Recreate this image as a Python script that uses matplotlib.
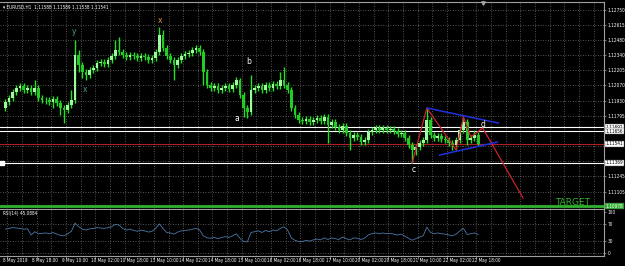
import numpy as np
import matplotlib.pyplot as plt

# EURUSD H1, every 2 hours
open0 = 1.11864
closes = [1.11918, 1.11954, 1.12008, 1.12045, 1.12063, 1.12026, 1.12045, 1.12008, 1.12045, 1.11954,
          1.11936, 1.11936, 1.11918, 1.11945, 1.11909, 1.11864, 1.11846, 1.11891, 1.11936, 1.12343,
          1.12252, 1.12189, 1.12162, 1.12207, 1.12225, 1.12270, 1.12280, 1.12261, 1.12298, 1.12334,
          1.12388, 1.12370, 1.12343, 1.12325, 1.12343, 1.12334, 1.12316, 1.12334, 1.12325, 1.12298,
          1.12316, 1.12370, 1.12524, 1.12406, 1.12334, 1.12298, 1.12252, 1.12298, 1.12334, 1.12352,
          1.12361, 1.12388, 1.12406, 1.12370, 1.12189, 1.12072, 1.12045, 1.12063, 1.12026, 1.12045,
          1.12063, 1.12035, 1.12072, 1.12117, 1.11981, 1.11864, 1.11828, 1.12026, 1.12045, 1.12063,
          1.12026, 1.12072, 1.12045, 1.12081, 1.12063, 1.12117, 1.12072, 1.12026, 1.11864, 1.11800,
          1.11755, 1.11746, 1.11764, 1.11737, 1.11755, 1.11773, 1.11746, 1.11782, 1.11710, 1.11737,
          1.11692, 1.11665, 1.11701, 1.11638, 1.11593, 1.11620, 1.11602, 1.11556, 1.11574, 1.11647,
          1.11665, 1.11683, 1.11665, 1.11683, 1.11665, 1.11674, 1.11656, 1.11629, 1.11638, 1.11593,
          1.11529, 1.11484, 1.11511, 1.11547, 1.11574, 1.11755, 1.11620, 1.11593, 1.11611, 1.11583,
          1.11574, 1.11547, 1.11529, 1.11574, 1.11665, 1.11737, 1.11574, 1.11593, 1.11620, 1.11541]
highs = [1.11945, 1.11981, 1.12035, 1.12072, 1.12090, 1.12090, 1.12072, 1.12072, 1.12117, 1.12072,
         1.11981, 1.11963, 1.11963, 1.11972, 1.11972, 1.11936, 1.11891, 1.11918, 1.12026, 1.12478,
         1.12388, 1.12280, 1.12216, 1.12234, 1.12252, 1.12298, 1.12307, 1.12307, 1.12325, 1.12361,
         1.12478, 1.12506, 1.12397, 1.12370, 1.12370, 1.12370, 1.12361, 1.12361, 1.12361, 1.12352,
         1.12343, 1.12397, 1.12596, 1.12569, 1.12433, 1.12361, 1.12325, 1.12325, 1.12361, 1.12379,
         1.12388, 1.12415, 1.12433, 1.12433, 1.12397, 1.12216, 1.12099, 1.12090, 1.12090, 1.12072,
         1.12090, 1.12090, 1.12099, 1.12144, 1.12135, 1.12008, 1.11891, 1.12162, 1.12072, 1.12090,
         1.12090, 1.12099, 1.12099, 1.12108, 1.12108, 1.12189, 1.12234, 1.12099, 1.12054, 1.11891,
         1.11828, 1.11782, 1.11791, 1.11791, 1.11782, 1.11800, 1.11800, 1.11809, 1.11809, 1.11764,
         1.11764, 1.11719, 1.11728, 1.11728, 1.11665, 1.11647, 1.11647, 1.11629, 1.11602, 1.11674,
         1.11692, 1.11710, 1.11710, 1.11710, 1.11710, 1.11701, 1.11701, 1.11683, 1.11665, 1.11665,
         1.11620, 1.11556, 1.11538, 1.11574, 1.11602, 1.11864, 1.11782, 1.11647, 1.11638, 1.11638,
         1.11611, 1.11602, 1.11574, 1.11602, 1.11692, 1.11782, 1.11764, 1.11620, 1.11665, 1.11647]
lows = [1.11837, 1.11891, 1.11927, 1.11981, 1.12017, 1.11999, 1.11999, 1.11981, 1.11981, 1.11927,
        1.11909, 1.11900, 1.11891, 1.11864, 1.11882, 1.11800, 1.11728, 1.11818, 1.11864, 1.11909,
        1.12189, 1.12135, 1.12117, 1.12135, 1.12180, 1.12198, 1.12243, 1.12234, 1.12234, 1.12270,
        1.12307, 1.12343, 1.12316, 1.12298, 1.12298, 1.12307, 1.12289, 1.12289, 1.12298, 1.12270,
        1.12270, 1.12289, 1.12343, 1.12379, 1.12307, 1.12270, 1.12117, 1.12225, 1.12270, 1.12307,
        1.12325, 1.12334, 1.12361, 1.12343, 1.12072, 1.12045, 1.12017, 1.12017, 1.11999, 1.11999,
        1.12017, 1.12008, 1.12008, 1.12045, 1.11954, 1.11782, 1.11773, 1.11800, 1.11999, 1.12017,
        1.11999, 1.11999, 1.12017, 1.12017, 1.12035, 1.12035, 1.12045, 1.11999, 1.11837, 1.11773,
        1.11728, 1.11719, 1.11719, 1.11710, 1.11710, 1.11728, 1.11719, 1.11719, 1.11547, 1.11683,
        1.11665, 1.11638, 1.11638, 1.11611, 1.11484, 1.11565, 1.11574, 1.11529, 1.11529, 1.11547,
        1.11620, 1.11638, 1.11638, 1.11638, 1.11638, 1.11638, 1.11629, 1.11602, 1.11602, 1.11565,
        1.11502, 1.11367, 1.11439, 1.11484, 1.11520, 1.11547, 1.11593, 1.11565, 1.11565, 1.11556,
        1.11547, 1.11520, 1.11484, 1.11484, 1.11547, 1.11638, 1.11529, 1.11547, 1.11565, 1.11520]
rsi = [58, 60, 62, 61, 60, 58, 59, 44, 52, 47, 48, 49, 47, 50, 46, 43, 42, 47, 53, 73,
       64, 58, 56, 59, 60, 62, 61, 60, 62, 64, 70, 68, 60, 56, 58, 55, 53, 56, 54, 51,
       53, 60, 71, 60, 50, 49, 46, 51, 54, 55, 56, 58, 60, 56, 42, 37, 36, 38, 35, 38,
       40, 38, 42, 47, 36, 28, 27, 50, 52, 54, 50, 55, 52, 56, 54, 60, 64, 56, 37, 31,
       28, 28, 31, 29, 32, 34, 32, 37, 33, 37, 35, 33, 39, 35, 32, 37, 36, 33, 36, 44,
       47, 49, 47, 49, 47, 48, 46, 44, 46, 41, 36, 31, 35, 39, 42, 63, 50, 47, 49, 47,
       46, 44, 42, 46, 54, 60, 45, 47, 49, 45.0884]

time_labels = ['8 May 2019', '8 May 18:00', '9 May 10:00', '10 May 02:00', '10 May 18:00',
               '13 May 10:00', '14 May 02:00', '14 May 18:00', '15 May 10:00', '16 May 02:00',
               '16 May 18:00', '17 May 10:00', '20 May 02:00', '20 May 18:00', '21 May 10:00',
               '22 May 02:00', '22 May 18:00']
price_ticks = [1.12750, 1.12615, 1.12480, 1.12340, 1.12205, 1.12070, 1.11930, 1.11795,
               1.11660, 1.11520, 1.11385, 1.11245, 1.11105, 1.10970]
# labels hidden behind the line price boxes
hidden_ticks = [1.11660, 1.11520, 1.11385, 1.10970]
rsi_ticks = [100, 70, 30, 0]

# wave drawing
zig_t = [221, 229, 245, 249, 253, 259.5, 281.5]
zig_p = [1.11367, 1.11864, 1.11484, 1.11782, 1.11602, 1.11683, 1.11050]
upper_t, upper_p = [229, 268], [1.11864, 1.11728]
lower_t, lower_p = [236, 267.5], [1.11439, 1.11556]
wave_labels = [('y', 36.4, 1.12551, '#4f9a9a'), ('x', 42.4, 1.12035, '#4f9a9a'),
               ('x', 83.4, 1.12659, '#e09040'), ('a', 125.4, 1.11773, 'white'),
               ('b', 131.9, 1.12280, 'white'), ('c', 222, 1.11312, 'white'),
               ('d', 259.7, 1.11712, '#f0f0d0')]

white_levels = [1.11692, 1.11656, 1.11369]
bid = 1.11541
target = 1.10978

fnt = 'DejaVu Sans'
fs = 3.4
txt = dict(family=fnt, stretch='condensed')
grid_kw = dict(color='#707070', linestyle=(0, (1, 2)), linewidth=0.6)

o = np.array([open0] + closes[:-1])
c = np.array(closes)
t = 2 * np.arange(len(closes)) - 1
xlim = (-3.98, 325.7)

fig = plt.figure(figsize=(6.25, 2.66), dpi=100, facecolor='black')
ax = fig.add_axes([0, 1 - 209 / 266, 604 / 625, 207 / 266])
ax.set_facecolor('black')
ax.set_xlim(*xlim)
ax.set_ylim(1.10951, 1.12822)

for v in np.arange(0, 326, 8):
    ax.axvline(v, **grid_kw, zorder=0)
for p in price_ticks:
    ax.axhline(p, **grid_kw, zorder=0)

up = c >= o
ax.vlines(t, lows, highs, color='#22e022', linewidth=1.0, zorder=2)
ax.bar(t[up], c[up] - o[up], bottom=o[up], width=1.5, color='#a0f8a0', linewidth=0, zorder=3)
ax.bar(t[~up], o[~up] - c[~up], bottom=c[~up], width=1.5, color='#22cc22', linewidth=0, zorder=3)

for lv in white_levels:
    ax.axhline(lv, color='white', linewidth=0.8, zorder=1)
ax.plot([xlim[0] + 1.2], [white_levels[2]], marker='s', color='white', markersize=2.2, zorder=4)
ax.axhline(bid, color='#b02020', linewidth=0.8, zorder=1)
ax.axhline(target, color='#30b030', linewidth=2.0, zorder=1)

ax.plot(zig_t, zig_p, color='#d02030', linewidth=0.9, zorder=5)
ax.plot(upper_t, upper_p, color='#2030e0', linewidth=1.1, zorder=5)
ax.plot(lower_t, lower_p, color='#2030e0', linewidth=1.1, zorder=5)
for s, x, y, col in wave_labels:
    ax.text(x, y, s, color=col, fontsize=5.5, family=fnt, ha='center', va='center', zorder=6)
ax.text(299, 1.11010, 'TARGET', color='#30b030', fontsize=6.5, family=fnt, ha='left', va='center')
ax.plot([259.7], [1.12812], marker='v', color='#a0a0a0', markersize=2.5, clip_on=False)

ax.text(0.005, 0.985, '\u25be EURUSD,H1  1.11588 1.11589 1.11538 1.11541', transform=ax.transAxes,
        color='white', fontsize=fs, ha='left', va='top', **txt)

ax.set_xticks([])
ax.yaxis.tick_right()
ax.set_yticks(price_ticks)
ax.set_yticklabels(['' if p in hidden_ticks else '%.5f' % p for p in price_ticks], **txt)
ax.tick_params(axis='y', colors='#a0a0a0', labelcolor='white', labelsize=fs, length=1.5, width=0.5, pad=1)
ax.spines['left'].set_visible(False)
for side in ['right', 'top', 'bottom']:
    ax.spines[side].set_color('#a0a0a0')
    ax.spines[side].set_linewidth(0.8)

box_levels = [(white_levels[0], 'white', 'black'), (white_levels[1], 'white', 'black'),
              (bid, 'white', 'black'), (white_levels[2], 'white', 'black'), (target, '#30b030', 'white')]
for lv, fc, tc in box_levels:
    ax.text(1.003, lv, '%.5f' % lv, transform=ax.get_yaxis_transform(), color=tc, fontsize=fs,
            ha='left', va='center', zorder=10, clip_on=False,
            bbox=dict(boxstyle='square,pad=0.12', fc=fc, ec='#606060', lw=0.3), **txt)

rax = fig.add_axes([0, 10 / 266, 604 / 625, 46 / 266])
rax.set_facecolor('black')
rax.set_xlim(*xlim)
rax.set_ylim(-7.3, 104.9)
for v in np.arange(0, 326, 8):
    rax.axvline(v, **grid_kw, zorder=0)
for lv in [70, 30, 0]:
    rax.axhline(lv, **grid_kw, zorder=0)
rax.plot(t, rsi, color='#4a78a8', linewidth=0.6)
rax.text(0.005, 0.97, 'RSI(14) 45.0884', transform=rax.transAxes, color='white', fontsize=fs,
         ha='left', va='top', **txt)
rax.yaxis.tick_right()
rax.set_yticks(rsi_ticks)
rax.set_yticklabels([str(v) for v in rsi_ticks], **txt)
rax.tick_params(axis='y', colors='#a0a0a0', labelcolor='white', labelsize=fs, length=1.5, width=0.5, pad=1)
rax.set_xticks(np.arange(len(time_labels)) * 16)
rax.set_xticklabels([])
rax.tick_params(axis='x', colors='#a0a0a0', length=2, width=0.5)
for i, lab in enumerate(time_labels):
    rax.text(16 * i - 2.3, -0.04, lab, transform=rax.get_xaxis_transform(), color='white',
             fontsize=3.3, ha='left', va='top', **txt)
rax.spines['left'].set_visible(False)
rax.spines['top'].set_visible(False)
for side in ['right', 'bottom']:
    rax.spines[side].set_color('#a0a0a0')
    rax.spines[side].set_linewidth(0.8)

fig.savefig('out.png', dpi=100, facecolor='black')
